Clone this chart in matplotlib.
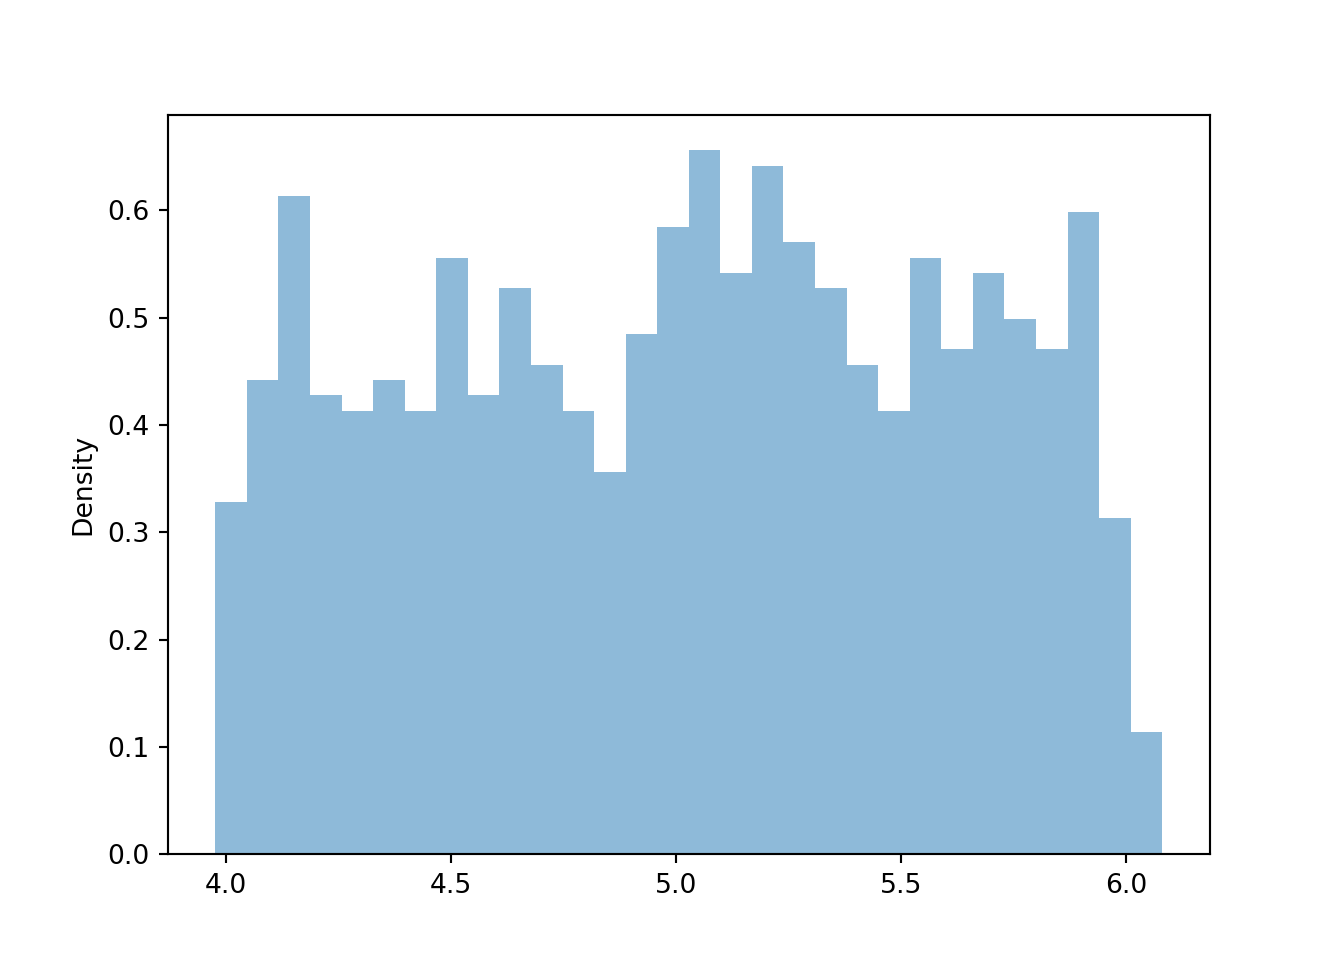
import numpy as np
import matplotlib
matplotlib.use('Agg')
import matplotlib.pyplot as plt

# counts per bin (1000 samples, 30 bins)
contagens = [23, 31, 43, 30, 29, 31, 29, 39, 30, 37,
             32, 29, 25, 34, 41, 46, 38, 45, 40, 37,
             32, 29, 39, 33, 38, 35, 33, 42, 22, 8]
inicio = 3.976
fim = 6.080

bordas = np.linspace(inicio, fim, len(contagens) + 1)

fig, ax = plt.subplots(figsize=(7, 5), dpi=192)
ax.hist(bordas[:-1], bins=bordas, weights=contagens, density=True, alpha=0.5)
ax.set_ylabel('Density')

plt.savefig('out.png')
